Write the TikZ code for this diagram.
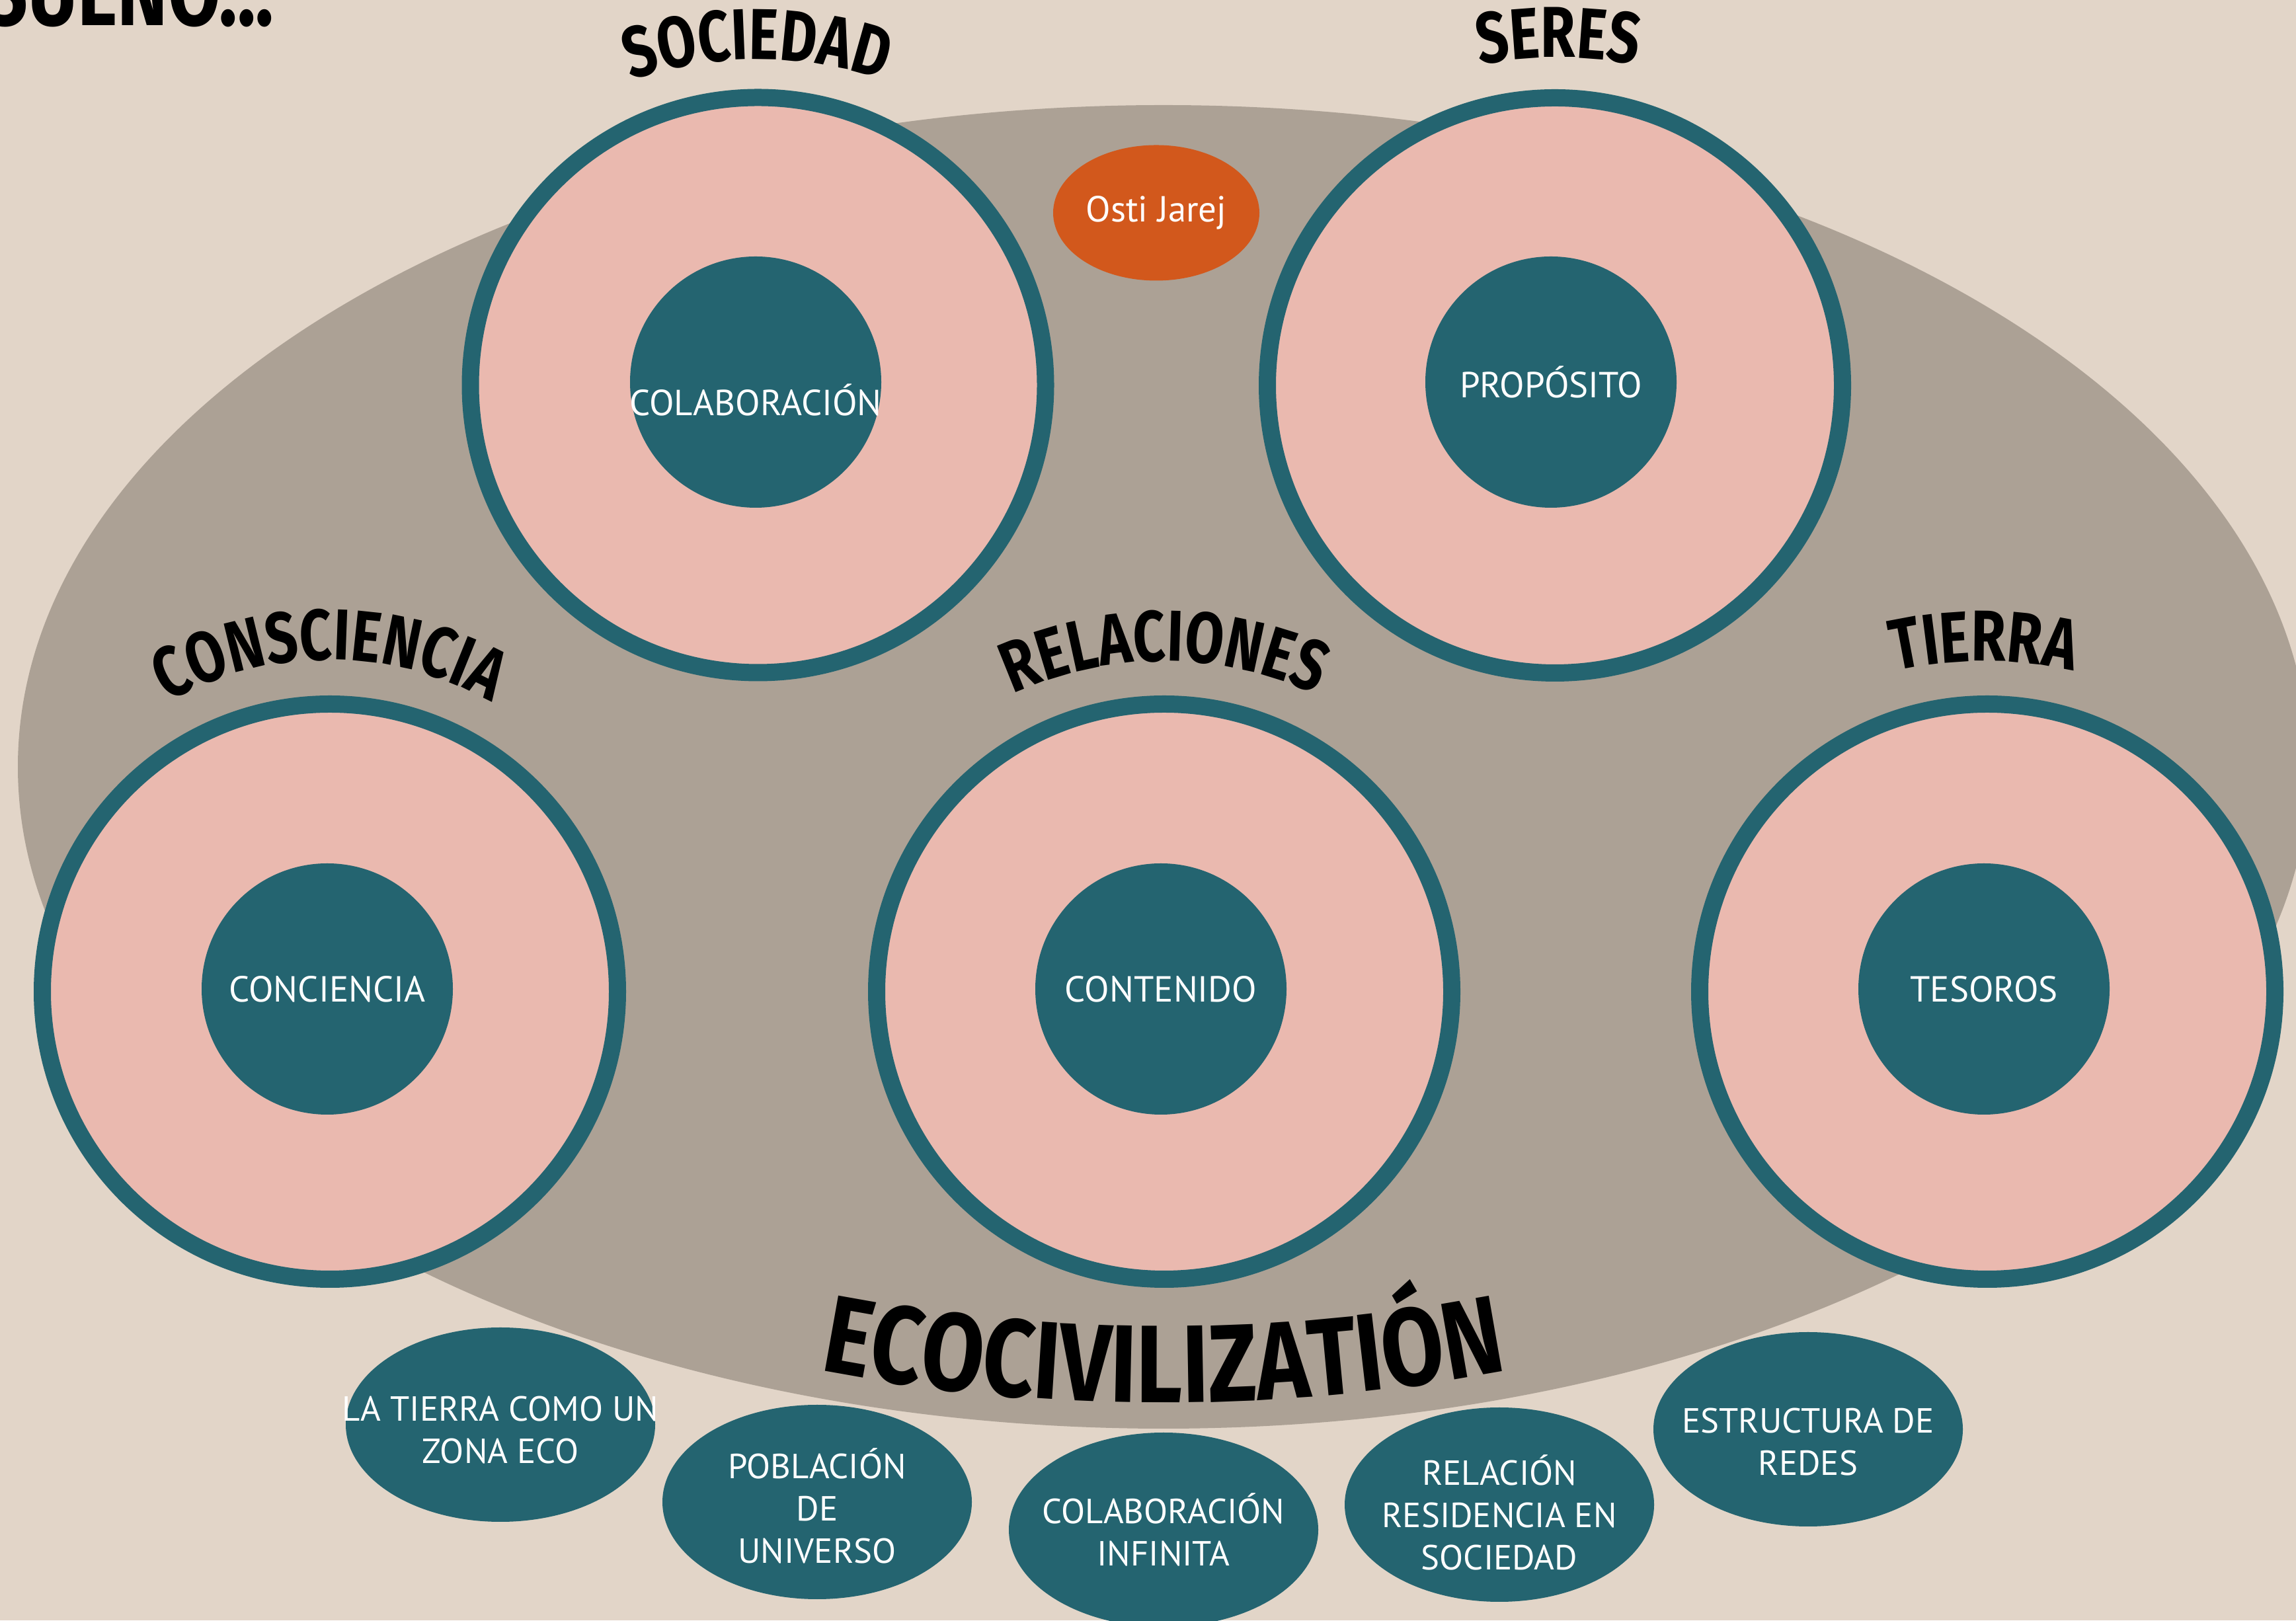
\documentclass[tikz,border=0pt]{standalone}
\usepackage{fontspec}
\setmainfont{PT Sans}
\newfontfamily\headfont[FakeStretch=0.78]{Fira Sans}
\newfontfamily\ecofont[FakeStretch=0.82]{Fira Sans}
\usetikzlibrary{positioning, shapes.geometric, decorations.text}

\definecolor{fondo}{HTML}{E2D5C8}
\definecolor{piedra}{HTML}{ACA195}
\definecolor{petroleo}{HTML}{246470}
\definecolor{rosa}{HTML}{EAB9AF}
\definecolor{naranja}{HTML}{D2581C}

\newcommand{\headsize}{\headfont\bfseries\fontsize{31}{34}\selectfont}
\newcommand{\ecosize}{\ecofont\bfseries\fontsize{47.5}{52}\selectfont}
\newcommand{\labelsize}{\fontsize{15.6}{18.2}\selectfont}
\newcommand{\bubblesize}{\fontsize{15}{18.2}\selectfont}

\begin{document}
\begin{tikzpicture}[
    ring/.style={circle, draw=petroleo, line width=0.26cm, fill=rosa,
                 minimum size=8.7cm, inner sep=0pt},
    core/.style={circle, fill=petroleo, text=white, font=\labelsize,
                 minimum size=3.8cm, inner sep=0pt},
    bubble/.style={ellipse, fill=petroleo, minimum width=4.68cm,
                   minimum height=2.94cm, inner sep=0pt},
    bubbletext/.style={text=white, align=center, font=\bubblesize, inner sep=0pt},
    arctitle/.style={decorate, decoration={text along path, text align=center, text={#1}}}
  ]
   \useasboundingbox (0,0) rectangle (34.73,24.51);
   \clip (0,0) rectangle (34.73,24.51);
   \fill[fondo] (0,0) rectangle (34.73,24.51);

   % big background ellipse
   \fill[piedra] (17.60,12.91) ellipse [x radius=17.33, y radius=10.01];

   \node[anchor=base east, inner sep=0pt, font=\headfont\bfseries\fontsize{42}{46}\selectfont] (sueno) at (4.15,24.12) {SUEÑO...};

   % upper row
   \node[ring] (soc) at (11.465,18.685) {};
   \node[ring] (ser) at (23.52,18.68) {};
   \node[core] (socin) at (11.43,18.73) {};
   \node[text=white, font=\labelsize, inner sep=0pt] (soctxt) at ([yshift=-0.27cm]socin.center) {COLABORACIÓN};
   \node[core] (serin) at (23.46,18.73) {PROPÓSITO};

   % lower row
   \node[ring] (con) at (4.99,9.51) {};
   \node[ring] (rel) at (17.61,9.51) {};
   \node[ring] (tie) at (30.06,9.51) {};
   \node[core] (conin) at (4.95,9.55) {CONCIENCIA};
   \node[core] (relin) at (17.56,9.55) {CONTENIDO};
   \node[core] (tiein) at (30.01,9.55) {TESOROS};

   \node[ellipse, fill=naranja, text=white, font=\labelsize, minimum width=3.12cm,
         minimum height=2.05cm, inner sep=0pt] (osti) at (17.49,21.29) {Osti Jarej};

   % curved titles
   \path[arctitle={|\headsize|SOCIEDAD}] (11.45,17.61) ++(135:6.0) arc[start angle=135, end angle=45, radius=6.0];
   \path[arctitle={|\headsize|SERES}] (23.57,17.14) ++(130:6.5) arc[start angle=130, end angle=50, radius=6.5];
   \path[arctitle={|\headsize|CONSCIENCIA}] (4.98,9.53) ++(145:5.0) arc[start angle=145, end angle=35, radius=5.0];
   \path[arctitle={|\headsize|RELACIONES}] (17.61,9.01) ++(145:5.5) arc[start angle=145, end angle=35, radius=5.5];
   \path[arctitle={|\headsize|TIERRA}] (30.01,8.51) ++(135:6.0) arc[start angle=135, end angle=45, radius=6.0];
   \path[arctitle={|\ecosize|ECOCIVILIZATIÓN}] (17.60,30.99) ++(255:27.7) arc[start angle=255, end angle=285, radius=27.7];

   % bottom bubbles
   \node[bubble] (e1) at (7.57,2.96) {};
   \node[bubble] (e2) at (12.36,1.79) {};
   \node[bubble] (e3) at (17.60,1.37) {};
   \node[bubble] (e4) at (22.68,1.75) {};
   \node[bubble] (e5) at (27.35,2.89) {};
   \node[bubbletext] (e1t) at ([yshift=-0.08cm]e1.center) {LA TIERRA COMO UN\\ZONA ECO};
   \node[bubbletext] (e2t) at ([yshift=-0.06cm]e2.center) {POBLACIÓN\\DE\\UNIVERSO};
   \node[bubbletext] (e3t) at (e3.center) {COLABORACIÓN\\INFINITA};
   \node[bubbletext] (e4t) at ([yshift=-0.12cm]e4.center) {RELACIÓN\\RESIDENCIA EN\\SOCIEDAD};
   \node[bubbletext] (e5t) at ([yshift=-0.19cm]e5.center) {ESTRUCTURA DE\\REDES};
\end{tikzpicture}
\end{document}
